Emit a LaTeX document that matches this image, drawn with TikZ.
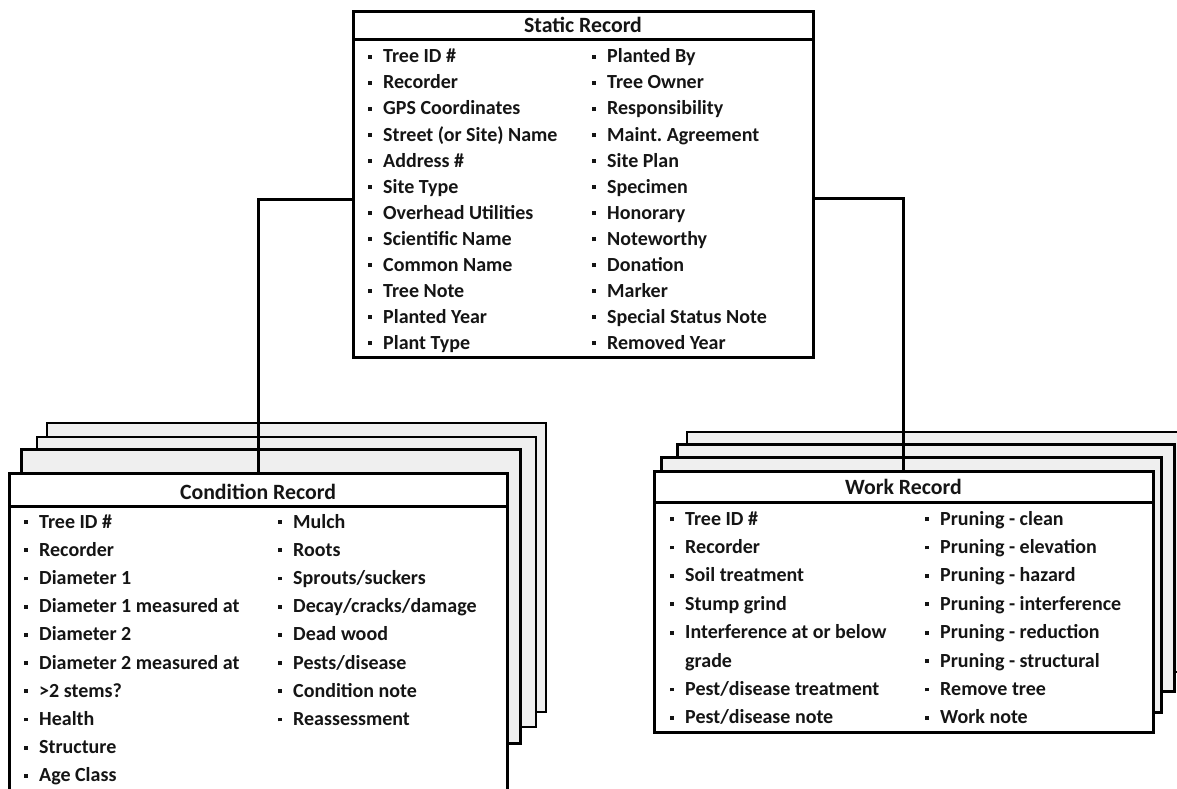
\documentclass[tikz,border=0pt]{standalone}
\usepackage{fontspec}
\setmainfont{Carlito}
\frenchspacing
\definecolor{txt}{HTML}{151515}
\definecolor{cardfill}{HTML}{EFEFEF}
\newcommand{\blt}{\makebox[15pt][l]{\raisebox{4pt}{\rule{3.8pt}{3.8pt}}}}
\tikzset{
  card/.style={draw=black, line width=2.4pt, fill=cardfill, inner sep=0pt, outer sep=0pt, anchor=north west},
  frontbox/.style={draw=black, line width=3pt, fill=white, inner sep=0pt, outer sep=0pt, anchor=north west},
  link/.style={draw=black, line width=3pt},
  divider/.style={draw=black, line width=3pt},
  item/.style={anchor=base west, inner sep=0pt, text=txt, font=\bfseries\fontsize{20}{24}\selectfont},
  head/.style={anchor=base, inner sep=0pt, text=txt, font=\bfseries\fontsize{21.8}{26}\selectfont}
}
\begin{document}
\begin{tikzpicture}[x=1pt,y=-1pt]
\clip (0,0) rectangle (1177,789);
\fill[white] (0,0) rectangle (1177,789);

% condition stack (back cards)
\node[card, minimum width=499pt, minimum height=289pt] (cb1) at (47,423) {};
\node[card, minimum width=499pt, minimum height=290pt] (cb2) at (37,437) {};
\node[card, line width=3pt, minimum width=499pt, minimum height=294pt] (cb3) at (21,449) {};

% work stack (back cards)
\node[card, minimum width=508pt, minimum height=240pt] (wb1) at (687,432) {};
\node[card, line width=3pt, minimum width=497pt, minimum height=247pt] (wb2) at (677,444) {};
\node[card, line width=3pt, minimum width=500pt, minimum height=255pt] (wb3) at (661,457) {};

% static record
\node[frontbox, minimum width=460pt, minimum height=345pt] (static) at (353,12) {};
\draw[divider] ([yshift=-28pt]static.north west) -- ([yshift=-28pt]static.north east);
\node[head] (sh) at (583,33) {Static Record};

% connectors
\draw[link] ([yshift=-14.5pt]static.west) -| (258,473) coordinate (cin);
\draw[link] ([yshift=-13.5pt]static.east) -| (903.5,471) coordinate (win);

% condition record
\node[frontbox, minimum width=498pt, minimum height=347pt] (cond) at (9,473) {};
\draw[divider] ([yshift=-33pt]cond.north west) -- ([yshift=-33pt]cond.north east);
\node[head] (ch) at (258,499) {Condition Record};

% work record
\node[frontbox, minimum width=499pt, minimum height=261pt] (work) at (654,471) {};
\draw[divider] ([yshift=-31pt]work.north west) -- ([yshift=-31pt]work.north east);
\node[head] (wh) at (903.5,494) {Work Record};

% static items
\foreach \t [count=\i] in {Tree ID \#, Recorder, GPS Coordinates, Street (or Site) Name, Address \#, Site Type, Overhead Utilities, Scientific Name, Common Name, Tree Note, Planted Year, Plant Type}
  \node[item] (sa\i) at (368,{63+(\i-1)*26}) {\blt\t};
\foreach \t [count=\i] in {Planted By, Tree Owner, Responsibility, Maint. Agreement, Site Plan, Specimen, Honorary, Noteworthy, Donation, Marker, Special Status Note, Removed Year}
  \node[item] (sb\i) at (592,{63+(\i-1)*26}) {\blt\t};

% condition items
\foreach \t [count=\i] in {Tree ID \#, Recorder, Diameter 1, Diameter 1 measured at, Diameter 2, Diameter 2 measured at, >2 stems?, Health, Structure, Age Class}
  \node[item] (ca\i) at (24,{528+(\i-1)*28.2}) {\blt\t};
\foreach \t [count=\i] in {Mulch, Roots, Sprouts/suckers, Decay/cracks/damage, Dead wood, Pests/disease, Condition note, Reassessment}
  \node[item] (cc\i) at (278,{528+(\i-1)*28.2}) {\blt\t};

% work items
\foreach \t [count=\i] in {Tree ID \#, Recorder, Soil treatment, Stump grind, Interference at or below}
  \node[item] (wa\i) at (670,{525+(\i-1)*28.4}) {\blt\t};
\node[item] (wa6) at (685,{525+5*28.4}) {grade};
\node[item] (wa7) at (670,{525+6*28.4}) {\blt Pest/disease treatment};
\node[item] (wa8) at (670,{525+7*28.4}) {\blt Pest/disease note};
\foreach \t [count=\i] in {Pruning - clean, Pruning - elevation, Pruning - hazard, Pruning - interference, Pruning - reduction, Pruning - structural, Remove tree, Work note}
  \node[item] (wc\i) at (925,{525+(\i-1)*28.4}) {\blt\t};
\end{tikzpicture}
\end{document}
